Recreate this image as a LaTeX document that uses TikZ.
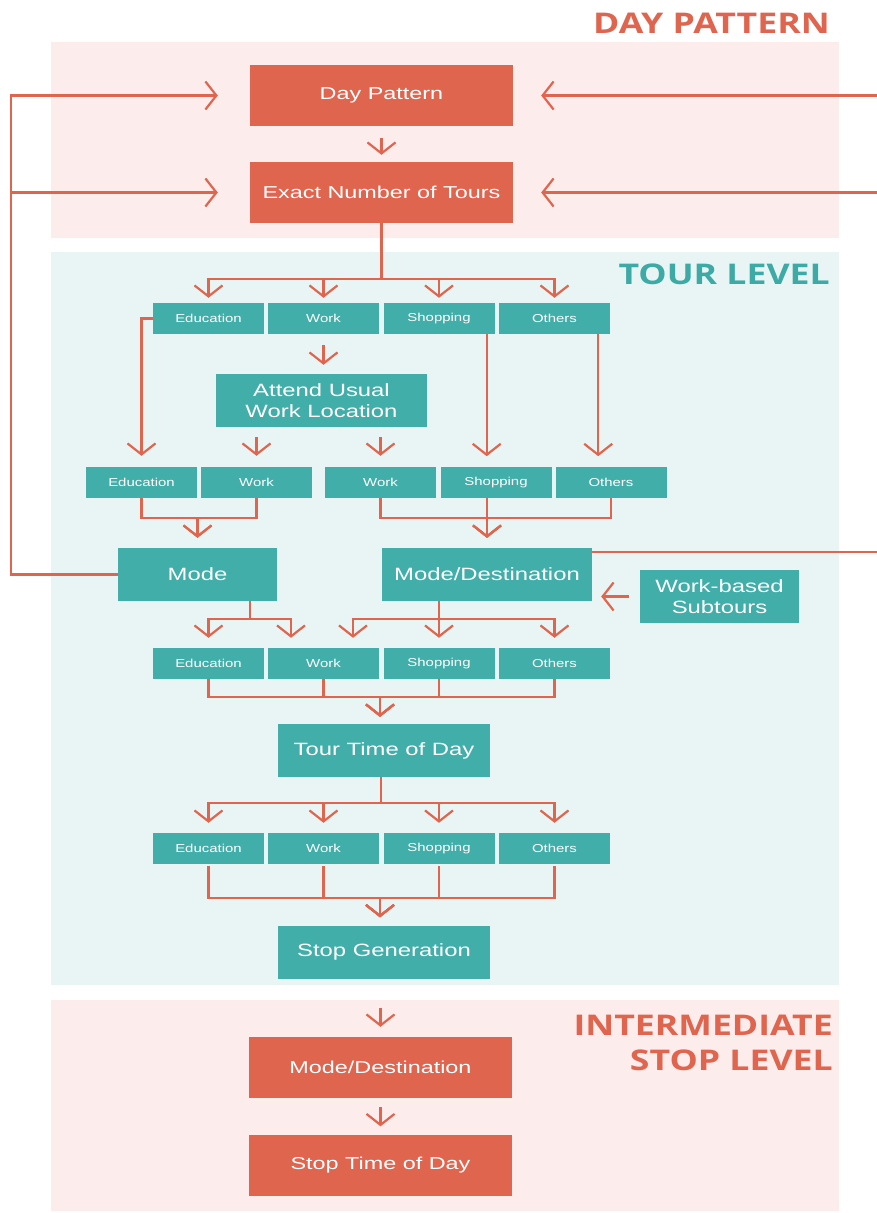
\documentclass[tikz,border=0pt]{standalone}
\usepackage{fontspec}
\setmainfont{Liberation Sans}
\newfontfamily\obfont[FakeStretch=1.36]{Liberation Sans}
\newfontfamily\tbfont[FakeStretch=1.34]{Liberation Sans}
\newfontfamily\sbfont[FakeStretch=1.3]{Liberation Sans}
\newfontfamily\ttlfont[FakeStretch=1.25]{Open Sans}
\usetikzlibrary{arrows.meta}
\definecolor{orng}{HTML}{E0654F}
\definecolor{tealbox}{HTML}{41AEA9}
\definecolor{pinkbg}{HTML}{FCECEB}
\definecolor{tealbg}{HTML}{E9F5F4}
\definecolor{tealttl}{HTML}{3DAAA5}
\begin{document}
\begin{tikzpicture}[x=1pt,y=-1pt,
		obox/.style = {fill=orng, text=white, minimum width=263, minimum height=61,
			font=\obfont\fontsize{17.2}{20}\selectfont},
		tbox/.style = {fill=tealbox, text=white, minimum height=53, align=center,
			font=\tbfont\fontsize{17.8}{21}\selectfont},
		sbox/.style = {fill=tealbox, text=white, minimum width=111, minimum height=31,
			font=\sbfont\fontsize{11.5}{14}\selectfont},
		arr/.style = {draw=orng, line width=2.2pt, -{Straight Barb[length=11pt,width=28pt]}},
		ttl/.style = {font=\ttlfont\bfseries\fontsize{28.5}{35}\selectfont, inner sep=0pt},
		]
		\useasboundingbox (0,0) rectangle (877,1213);
		\fill[pinkbg] (51,42) rectangle (839,238);
		\fill[tealbg] (51,252) rectangle (839,985);
		\fill[pinkbg] (51,1000) rectangle (839,1211);
		\node[ttl, text=orng, anchor=east] (t1) at (830,23) {DAY PATTERN};
		\node[ttl, text=tealttl, anchor=east] (t2) at (830,274) {TOUR LEVEL};
		\node[ttl, text=orng, anchor=north east, align=right] (t3) at (833,1015) {INTERMEDIATE\\STOP LEVEL};
		\node[obox] (dp) at (381.5,95.5) {Day Pattern};
		\node[obox] (ent) at (381.5,192.5) {Exact Number of Tours};
		\foreach \lbl/\xc [count=\i] in {Education/208.5, Work/323.5, Shopping/439, Others/554.5}
		{
			\node[sbox] (a\i) at (\xc,318.5) {\lbl};
			\node[sbox] (c\i) at (\xc,663.5) {\lbl};
			\node[sbox] (d\i) at (\xc,848.5) {\lbl};
		};
		\node[tbox, minimum width=211] (aw) at (321.5,400.5) {Attend Usual\\Work Location};
		\foreach \lbl/\xc [count=\i] in {Education/141.5, Work/256.5, Work/380.5, Shopping/496, Others/611}
		{
			\node[sbox] (b\i) at (\xc,482.5) {\lbl};
		};
		\node[tbox, minimum width=159] (mo) at (197.5,574.5) {Mode};
		\node[tbox, minimum width=210] (md) at (487,574.5) {Mode/Destination};
		\node[tbox, minimum width=159] (wb) at (719.5,596.5) {Work-based\\Subtours};
		\node[tbox, minimum width=212] (ttd) at (384,750.5) {Tour Time of Day};
		\node[tbox, minimum width=212] (sg) at (384,952) {Stop Generation};
		\node[obox] (im) at (380.5,1067.5) {Mode/Destination};
		\node[obox] (st) at (380.5,1165) {Stop Time of Day};
		
		\draw[arr, shorten <=12, shorten >=7] (dp) -- (ent);
		\draw[arr, shorten >=32] (mo.west) -- ++(-107,0) |- (dp.west);
		\draw[arr, shorten >=32] (mo.west) -- ++(-107,0) |- (ent.west);
		\draw[arr, shorten >=28] ([yshift=-4]md.north east) -- ++(292,0) |- (dp.east);
		\draw[arr, shorten >=28] ([yshift=-4]md.north east) -- ++(292,0) |- (ent.east);
		\foreach \i in {1,...,4}
		{
			\draw[arr, shorten >=5] (ent.south) -- ++(0,56) -| (a\i.north);
		};
		\draw[arr, shorten <=11, shorten >=9] (a2.south) -- (a2.south |- aw.north);
		\draw[arr, shorten >=11] (a1.west) -| (b1.north);
		\foreach \i in {2,3}
		{
			\draw[arr, shorten <=10, shorten >=11] (aw.south -| b\i.north) -- (b\i.north);
		};
		\draw[arr, shorten >=11] ([xshift=-8]a3.south east) -- ++(0,133);
		\draw[arr, shorten >=11] ([xshift=-12]a4.south east) -- ++(0,133);
		\draw[arr, shorten >=10] (b1.south) -- ++(0,20) -| (mo.north);
		\draw[arr, shorten >=10] (b2.south) -- ++(0,20) -| (mo.north);
		\draw[arr, shorten >=10] (b3.south) -- ++(0,20) -| (md.north);
		\draw[arr, shorten >=10] (b5.south) -- ++(0,20) -| (md.north);
		\draw[arr, shorten >=10] ([xshift=-9]b4.south) -- (md.north);
		\draw[arr, shorten >=10] ([xshift=52.5]mo.south) -- ++(0,18) -| (c1.north);
		\draw[arr, shorten >=10] ([xshift=52.5]mo.south) -- ++(0,18) -| ([xshift=-32.5]c2.north);
		\draw[arr, shorten >=10] ([xshift=-48]md.south) -- ++(0,18) -| ([xshift=29.5]c2.north);
		\draw[arr, shorten >=10] ([xshift=-48]md.south) -- ++(0,18) -| (c3.north);
		\draw[arr, shorten >=10] ([xshift=-48]md.south) -- ++(0,18) -| (c4.north);
		\draw[arr, shorten <=11, shorten >=9] (wb.west) -- (wb.west -| md.east);
		\foreach \i in {1,...,4}
		{
			\draw[arr, shorten >=7] (c\i.south) -- ++(0,18) -| ([xshift=-4]ttd.north);
			\draw[arr, shorten >=10] ([xshift=-3]ttd.south) -- ++(0,26) -| (d\i.north);
			\draw[arr, shorten >=8] ([yshift=-2]d\i.south) -- ++(0,32) -| ([xshift=-4]sg.north);
		};
		\draw[arr, shorten <=29, shorten >=10] (im.north |- sg.south) -- (im.north);
		\draw[arr, shorten <=9, shorten >=8] (im) -- (st);
	\end{tikzpicture}
\end{document}
